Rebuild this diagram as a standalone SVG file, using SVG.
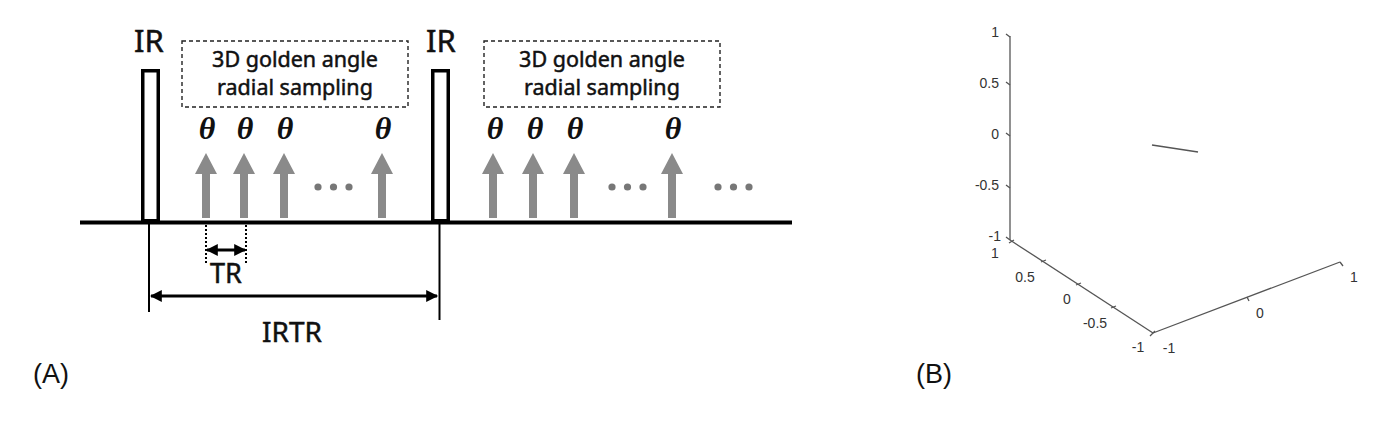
<svg xmlns="http://www.w3.org/2000/svg" width="1399" height="422" viewBox="0 0 1399 422">
<style>
.lbl{font-family:"Noto Sans","Open Sans",sans-serif;fill:#111;stroke:#111;stroke-width:0.5;text-anchor:middle}
.th{font-family:"Liberation Serif",serif;font-style:italic;font-weight:bold;font-size:32px;fill:#111;text-anchor:middle}
.box{fill:none;stroke:#222;stroke-width:1.4;stroke-dasharray:4 3}
.pulse{fill:#fff;stroke:#000;stroke-width:3.5}
.dot{fill:#777}
.ax{stroke:#555;stroke-width:1.3;fill:none}
.tk{font-family:"Liberation Sans",Arial,sans-serif;font-size:14px;fill:#333}
.pl{font-family:"Liberation Sans",Arial,sans-serif;font-size:27px;fill:#111}
</style>
<defs>
<path id="rf" d="M-4,-2 V-46 H-11 L0,-67 L11,-46 H4 V-2 Z" fill="#8a8a8a"/>
<marker id="ah" viewBox="0 0 10 10" refX="9" refY="5" markerWidth="4.2" markerHeight="4" orient="auto-start-reverse" markerUnits="strokeWidth">
<path d="M0,0 L10,5 L0,10 Z" fill="#000"/>
</marker>
</defs>
<rect width="1399" height="422" fill="#fff"/>

<g id="panelA">
<g id="baseline"><line x1="80" y1="222.5" x2="792" y2="222.5" stroke="#000" stroke-width="4"/></g>
<g id="ir1">
<rect class="pulse" x="142.75" y="70.75" width="15.5" height="150"/>
<text class="lbl" x="149" y="52" font-size="31">IR</text>
</g>
<g id="ir2">
<rect class="pulse" x="432.75" y="70.75" width="15.5" height="150"/>
<text class="lbl" x="441" y="52" font-size="31">IR</text>
</g>
<g id="box1">
<rect class="box" x="182" y="41" width="226" height="66"/>
<text class="lbl" x="295" y="67" font-size="21.5" stroke-width="0.35">3D golden angle</text>
<text class="lbl" x="295" y="95" font-size="21.5" stroke-width="0.35">radial sampling</text>
</g>
<g id="box2">
<rect class="box" x="484" y="41" width="236" height="66"/>
<text class="lbl" x="602" y="67" font-size="21.5" stroke-width="0.35">3D golden angle</text>
<text class="lbl" x="602" y="95" font-size="21.5" stroke-width="0.35">radial sampling</text>
</g>
<g id="readouts1">
<use href="#rf" x="206" y="220"/><use href="#rf" x="244" y="220"/><use href="#rf" x="284" y="220"/><use href="#rf" x="382" y="220"/>
<text class="th" x="207" y="139">θ</text><text class="th" x="245" y="139">θ</text><text class="th" x="285" y="139">θ</text><text class="th" x="383" y="139">θ</text>
<circle class="dot" cx="318" cy="187" r="3.6"/><circle class="dot" cx="333.5" cy="187" r="3.6"/><circle class="dot" cx="349" cy="187" r="3.6"/>
</g>
<g id="readouts2">
<use href="#rf" x="493" y="220"/><use href="#rf" x="533" y="220"/><use href="#rf" x="574" y="220"/><use href="#rf" x="672" y="220"/>
<text class="th" x="495" y="139">θ</text><text class="th" x="535" y="139">θ</text><text class="th" x="575" y="139">θ</text><text class="th" x="673" y="139">θ</text>
<circle class="dot" cx="612" cy="187" r="3.6"/><circle class="dot" cx="627.5" cy="187" r="3.6"/><circle class="dot" cx="643" cy="187" r="3.6"/>
<circle class="dot" cx="718" cy="187" r="3.6"/><circle class="dot" cx="733.5" cy="187" r="3.6"/><circle class="dot" cx="749" cy="187" r="3.6"/>
</g>
<g id="connectors">
<line x1="149" y1="224" x2="149" y2="312" stroke="#000" stroke-width="2"/>
<line x1="439.5" y1="224" x2="439.5" y2="320" stroke="#000" stroke-width="2"/>
<line x1="151" y1="296" x2="437" y2="296" stroke="#000" stroke-width="3" marker-start="url(#ah)" marker-end="url(#ah)"/>
<line x1="206" y1="225" x2="206" y2="265" stroke="#000" stroke-width="2" stroke-dasharray="2 2"/>
<line x1="246" y1="225" x2="246" y2="265" stroke="#000" stroke-width="2" stroke-dasharray="2 2"/>
<line x1="207" y1="250" x2="245" y2="250" stroke="#000" stroke-width="3" marker-start="url(#ah)" marker-end="url(#ah)"/>
</g>
<text class="lbl" x="226" y="283" font-size="27">TR</text>
<text class="lbl" x="292" y="342" font-size="28">IRTR</text>
<text class="pl" x="33" y="383">(A)</text>
</g>

<g id="panelB">
<g id="axes">
<line class="ax" x1="1010" y1="36" x2="1010" y2="240"/>
<line class="ax" x1="1010" y1="240" x2="1153" y2="333"/>
<line class="ax" x1="1153" y1="333" x2="1340" y2="262"/>
<path class="ax" d="M1006,34 L1010,37 M1006,82 L1010,85 M1006,133 L1010,136 M1006,185 L1010,188 M1006,237 L1010,240"/>
<path class="ax" d="M1009,243 L1014,240 M1041,262 L1046,260 M1076,285 L1081,283 M1111,308 L1116,306 M1150,336 L1155,331"/>
<path class="ax" d="M1247,297 L1249,301 M1340,262 L1343,266"/>
<line x1="1152" y1="145" x2="1198" y2="152" stroke="#555" stroke-width="1.6"/>
</g>
<g id="ticklabels">
<text class="tk" x="999" y="37" text-anchor="end">1</text>
<text class="tk" x="999" y="88" text-anchor="end">0.5</text>
<text class="tk" x="999" y="139" text-anchor="end">0</text>
<text class="tk" x="999" y="190" text-anchor="end">-0.5</text>
<text class="tk" x="1001" y="241" text-anchor="end">-1</text>
<text class="tk" x="995" y="258" text-anchor="middle">1</text>
<text class="tk" x="1025" y="282" text-anchor="middle">0.5</text>
<text class="tk" x="1067" y="304" text-anchor="middle">0</text>
<text class="tk" x="1095" y="328" text-anchor="middle">-0.5</text>
<text class="tk" x="1138" y="352" text-anchor="middle">-1</text>
<text class="tk" x="1169" y="353" text-anchor="middle">-1</text>
<text class="tk" x="1260" y="318" text-anchor="middle">0</text>
<text class="tk" x="1354" y="282" text-anchor="middle">1</text>
</g>
<text class="pl" x="916" y="383">(B)</text>
</g>
</svg>
